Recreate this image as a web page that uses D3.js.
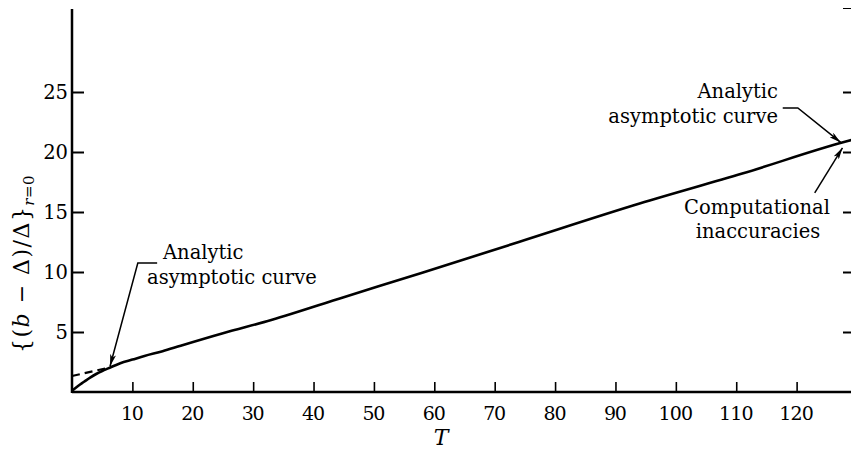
<!DOCTYPE html>
<html>
<head>
<meta charset="utf-8">
<script src="https://cdn.jsdelivr.net/npm/d3@7"></script>
<style>
  body { margin: 0; background: #fff; }
  svg { display: block; }
  text { font-family: "DejaVu Serif", "Liberation Serif", serif; fill: #000; }
</style>
</head>
<body>
<svg id="chart" width="851" height="452"></svg>
<script>
// ---- data ----
const xTicks = [10, 20, 30, 40, 50, 60, 70, 80, 90, 100, 110, 120];
const yTicks = [5, 10, 15, 20, 25];
const solidT = [0, 1, 2, 3, 4, 5, 6, 8, 10, 12, 15, 18, 25, 33, 45, 58, 74, 94, 111, 128, 129.5];
const solidV = [0.1, 0.5, 0.85, 1.2, 1.5, 1.75, 1.97, 2.4, 2.7, 3.0, 3.4, 3.86, 4.9, 6.0, 7.9, 9.94, 12.5, 15.7, 18.2, 20.85, 21.05];
const dashT = [0, 6];
const dashV = [1.33, 2.02];
// annotation anchors (data units)
const leftLeaderT = [14.1, 10.9, 6.3];
const leftLeaderV = [10.75, 10.75, 2.15];
const rightLeaderT = [117.7, 120.2, 127.3];
const rightLeaderV = [23.67, 23.67, 20.8];
const compLeaderT = [123.0, 127.6];
const compLeaderV = [16.6, 20.35];

const svg = d3.select("#chart");
const x = d3.scaleLinear().domain([0, 130]).range([72, 857]);
const y = d3.scaleLinear().domain([0, 32]).range([392, 8]);

svg.append("defs").append("marker")
  .attr("id", "arr").attr("viewBox", "0 0 12 6")
  .attr("refX", 12).attr("refY", 3)
  .attr("markerWidth", 12).attr("markerHeight", 6)
  .attr("markerUnits", "userSpaceOnUse")
  .attr("orient", "auto")
  .append("path").attr("d", "M0,0 L12,3 L0,6 L3,3 Z").attr("fill", "#000");

// axes
const gx = svg.append("g").attr("transform", `translate(0,${y(0)})`)
  .call(d3.axisTop(x).tickValues(xTicks).tickSize(10).tickFormat(""));
gx.select(".domain").attr("d", `M${x(0)},0H${851}`).attr("stroke-width", 2.5);
gx.selectAll(".tick line").attr("stroke-width", 1.6);

svg.append("g").selectAll("text").data(xTicks).join("text")
  .attr("x", d => x(d)).attr("y", 420)
  .attr("text-anchor", "middle").attr("font-size", 19)
  .attr("textLength", d => String(d).length * 11.5)
  .text(d => d);

const gy = svg.append("g").attr("transform", `translate(${x(0)},0)`)
  .call(d3.axisRight(y).tickValues(yTicks).tickSize(12).tickFormat(""));
gy.select(".domain").attr("d", `M0,${y(0) + 1}V${9}`).attr("stroke-width", 2.5);
gy.selectAll(".tick line").attr("stroke-width", 2);

svg.append("g").selectAll("text").data(yTicks).join("text")
  .attr("x", 68).attr("y", d => y(d) + 7)
  .attr("text-anchor", "end").attr("font-size", 19.5)
  .text(d => d);

const gr = svg.append("g").attr("transform", `translate(${x(130)},0)`)
  .call(d3.axisLeft(y).tickValues(yTicks).tickSize(14).tickFormat(""));
gr.selectAll(".tick line").attr("stroke-width", 2);

// axis titles
svg.append("text").attr("x", 441).attr("y", 445)
  .attr("text-anchor", "middle").attr("font-size", 22)
  .attr("font-style", "italic").attr("font-family", "Liberation Serif")
  .text("T");

const yl = svg.append("text")
  .attr("transform", "translate(29,353) rotate(-90)")
  .attr("font-size", 22).attr("font-family", "Liberation Serif")
  .attr("letter-spacing", 1.5);
yl.append("tspan").text("{(");
yl.append("tspan").attr("font-style", "italic").text("b");
yl.append("tspan").text(" − Δ)/Δ}");
yl.append("tspan").attr("font-size", 15).attr("dy", 5).attr("font-style", "italic").attr("letter-spacing", 0.5).text("r");
yl.append("tspan").attr("font-size", 15).attr("letter-spacing", 0.5).text("=0");

// curves
const line = d3.line().x(d => x(d[0])).y(d => y(d[1])).curve(d3.curveMonotoneX);
svg.append("path").datum(solidT.map((t, i) => [t, solidV[i]]))
  .attr("d", line).attr("fill", "none").attr("stroke", "#000").attr("stroke-width", 2.6);
svg.append("path").datum(dashT.map((t, i) => [t, dashV[i]]))
  .attr("d", d3.line().x(d => x(d[0])).y(d => y(d[1])))
  .attr("fill", "none").attr("stroke", "#000").attr("stroke-width", 2.2)
  .attr("stroke-dasharray", "8,5");

// annotations
const lead = d3.line().x(d => x(d[0])).y(d => y(d[1]));
function leader(ts, vs) {
  svg.append("path").datum(ts.map((t, i) => [t, vs[i]]))
    .attr("d", lead).attr("fill", "none").attr("stroke", "#000")
    .attr("stroke-width", 1.5).attr("marker-end", "url(#arr)");
}
leader(leftLeaderT, leftLeaderV);
leader(rightLeaderT, rightLeaderV);
leader(compLeaderT, compLeaderV);

const fs = 19.5;
svg.append("text").attr("x", 163).attr("y", 259).attr("font-size", fs).text("Analytic");
svg.append("text").attr("x", 147).attr("y", 284).attr("font-size", fs).text("asymptotic curve");
svg.append("text").attr("x", 778).attr("y", 98).attr("text-anchor", "end").attr("font-size", fs).text("Analytic");
svg.append("text").attr("x", 778).attr("y", 123).attr("text-anchor", "end").attr("font-size", fs).text("asymptotic curve");
svg.append("text").attr("x", 757).attr("y", 214).attr("text-anchor", "middle").attr("font-size", fs).text("Computational");
svg.append("text").attr("x", 758).attr("y", 238).attr("text-anchor", "middle").attr("font-size", fs).text("inaccuracies");
</script>
</body>
</html>
